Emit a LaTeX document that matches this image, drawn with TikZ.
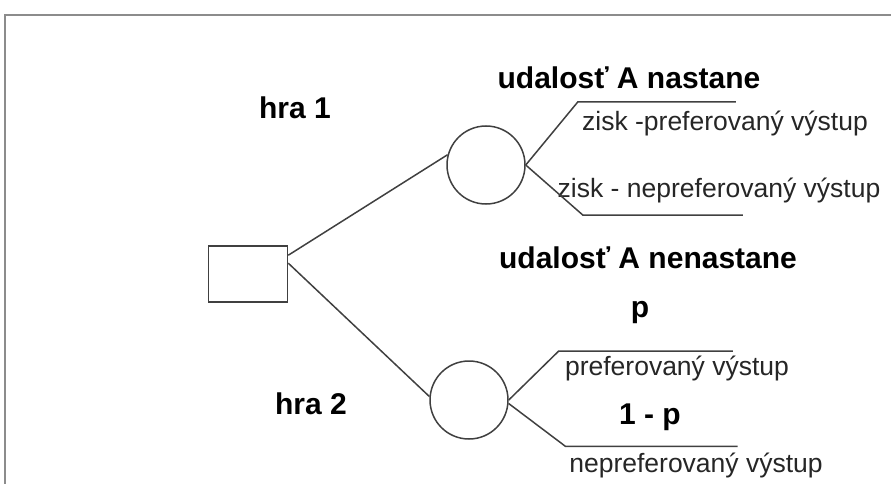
\documentclass[tikz,border=0pt]{standalone}
\usepackage{fontspec}
\setmainfont{Liberation Sans}
\usepackage{tikz}

\begin{document}
\begin{tikzpicture}[x=1pt, y=-1pt]

    % Define styles
    \tikzstyle{decision} = [rectangle, draw=black!75, line width=1.6pt, minimum width=79pt, minimum height=56pt]
    \tikzstyle{chance} = [circle, draw=black!75, line width=1.5pt, minimum size=78pt, inner sep=0pt]
    \tikzstyle{branch} = [draw=black!75, line width=1.5pt]
    \tikzstyle{head} = [font=\fontsize{30}{34}\selectfont\bfseries, inner sep=0pt]
    \tikzstyle{outcome} = [font=\fontsize{26.5}{30}\selectfont, text=black!85, inner sep=0pt]

    \useasboundingbox (0,0) rectangle (891,484);
    \draw[black!45, line width=2.5pt] (5,484) -- (5,15) -- (891,15);

    % Nodes
    \node[decision] (sq) at (248,274) {};
    \node[chance] (c1) at (486,165) {};
    \node[chance] (c2) at (469,400) {};

    \node[head] (hra1) at (295,108) {hra 1};
    \node[head] (hra2) at (311,404) {hra 2};
    \node[head] (nast) at (629,78) {udalosť A nastane};
    \node[head] (nenast) at (648,258) {udalosť A nenastane};
    \node[head] (p) at (640,313) {p};
    \node[head] (q) at (650,417) {1 - p};

    \node[outcome] (zpref) at (725,123) {zisk -preferovaný výstup};
    \node[outcome] (znepref) at (719,190) {zisk - nepreferovaný výstup};
    \node[outcome] (pref) at (677,368) {preferovaný výstup};
    \node[outcome] (nepref) at (696,465) {nepreferovaný výstup};

    % Branches
    \draw[branch] (sq.25) -- (c1.165);
    \draw[branch] (sq.15) -- (c2.175);
    \draw[branch] (c1.east) -- ++(52,-63) -- ++(158,0);
    \draw[branch] (c1.east) -- ++(57,50) -- ++(160,0);
    \draw[branch] (c2.east) -- ++(50,-49) -- ++(174,0);
    \draw[branch] (c2.-5) -- ++(57,43) -- ++(172,0);

\end{tikzpicture}
\end{document}
